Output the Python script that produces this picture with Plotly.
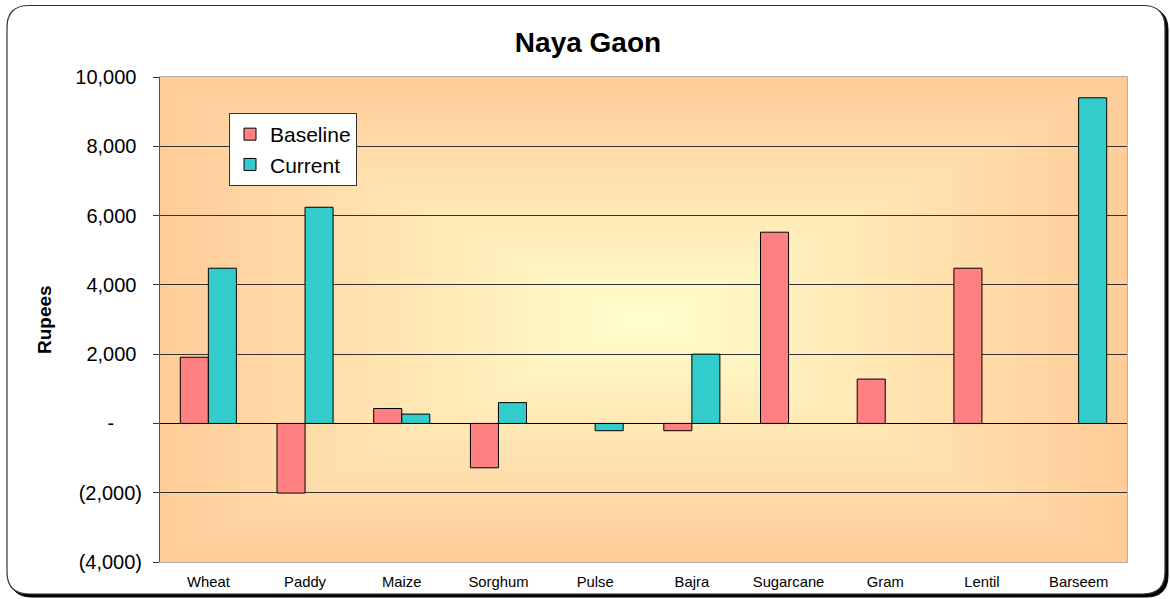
import zlib
import struct
import base64
import numpy as np
import plotly.graph_objects as go

# ---------------- data ----------------
categories = ["Wheat", "Paddy", "Maize", "Sorghum", "Pulse", "Bajra",
              "Sugarcane", "Gram", "Lentil", "Barseem"]
baseline = [1910, -2010, 430, -1280, None, -210, 5520, 1280, 4480, None]
current = [4480, 6240, 270, 600, -210, 2000, None, None, None, 9400]
y_ticks = [-4000, -2000, 0, 2000, 4000, 6000, 8000, 10000]
y_range = [-4000, 10000]
chart_title = "Naya Gaon"
y_title = "Rupees"
series_names = ["Baseline", "Current"]

# ---------------- geometry ----------------
W, H = 1170, 599
ML, MR, MT, MB = 160, 43, 77, 37
PW, PH = W - ML - MR, H - MT - MB
FONT = "Liberation Sans, Arial, sans-serif"


def px_x(px):
    return (px - ML) / PW


def px_y(py):
    return 1 - (py - MT) / PH


def acct(v):
    # Excel accounting style: 1,000_)  (1,000)  -??_)
    if v > 0:
        return f"{v:,}\u00a0"
    if v < 0:
        return f"({-v:,})"
    return "-" + "\u00a0" * 5


# ---------------- gradient background (rectangular "from center") ----------------
def make_png(w, h, rgb):
    raw = b"".join(b"\x00" + rgb[r].tobytes() for r in range(h))

    def chunk(t, d):
        c = struct.pack(">I", len(d)) + t + d
        return c + struct.pack(">I", zlib.crc32(t + d) & 0xFFFFFFFF)

    return (b"\x89PNG\r\n\x1a\n"
            + chunk(b"IHDR", struct.pack(">IIBBBBB", w, h, 8, 2, 0, 0, 0))
            + chunk(b"IDAT", zlib.compress(raw, 9))
            + chunk(b"IEND", b""))


gw, gh = 484, 243
xx = np.abs(np.linspace(-1, 1, gw))[None, :]
yy = np.abs(np.linspace(-1, 1, gh))[:, None]
t = np.maximum(xx, yy)
c_center = np.array([255, 255, 204], dtype=float)
c_edge = np.array([255, 204, 153], dtype=float)
img = (c_center[None, None, :] + (c_edge - c_center)[None, None, :] * t[:, :, None])
img = np.clip(np.round(img), 0, 255).astype(np.uint8)
png_uri = "data:image/png;base64," + base64.b64encode(make_png(gw, gh, img)).decode()

# ---------------- figure ----------------
fig = go.Figure()
fig.add_trace(go.Bar(x=categories, y=baseline, name=series_names[0], legendgroup="a",
                     marker=dict(color="#FF8080", line=dict(color="black", width=1))))
fig.add_trace(go.Bar(x=categories, y=current, name=series_names[1], legendgroup="b",
                     marker=dict(color="#33CCCC", line=dict(color="black", width=1))))

zero_pos = (0 - y_range[0]) / (y_range[1] - y_range[0])
n = len(categories)

fig.update_layout(
    width=W, height=H,
    margin=dict(l=ML, r=MR, t=MT, b=MB, pad=0, autoexpand=False),
    paper_bgcolor="white",
    plot_bgcolor="rgba(0,0,0,0)",
    font=dict(family=FONT, color="black"),
    barmode="group", bargap=0.42, bargroupgap=0,
    showlegend=True,
    legend=dict(x=px_x(229), y=px_y(113), xanchor="left", yanchor="top",
                bgcolor="white", bordercolor="#333", borderwidth=1,
                font=dict(family=FONT, size=21, color="black"),
                traceorder="normal", tracegroupgap=4),
    title=dict(text=f"<b>{chart_title}</b>", x=588 / W, xref="container",
               xanchor="center", y=1 - 42 / H, yref="container", yanchor="middle",
               font=dict(family=FONT, size=28, color="black")),
    xaxis=dict(type="category", categoryorder="array", categoryarray=categories,
               range=[-0.5, n - 0.5], showgrid=False, zeroline=False,
               showline=False, ticks="", ticklabelstandoff=9, automargin=False,
               tickfont=dict(family=FONT, size=14.8, color="black")),
    xaxis2=dict(overlaying="x", anchor="free", position=zero_pos,
                range=[-0.5, n - 0.5], tickmode="array",
                tickvals=[i - 0.5 for i in range(n + 1)], automargin=False,
                ticks="outside", ticklen=5, tickcolor="black", tickwidth=1,
                showticklabels=False, showline=True, linecolor="black",
                linewidth=1, showgrid=False, zeroline=False),
    yaxis=dict(range=y_range, tickmode="array", tickvals=y_ticks,
               ticktext=[acct(v) for v in y_ticks], automargin=False,
               showgrid=True, gridcolor="#333", gridwidth=1,
               zeroline=True, zerolinecolor="black", zerolinewidth=1,
               ticks="outside", ticklen=6, tickcolor="#333", tickwidth=1,
               showline=True, linecolor="#555", linewidth=1,
               ticklabelstandoff=7,
               tickfont=dict(family=FONT, size=20, color="black")),
    images=[dict(source=png_uri, xref="x domain", yref="y domain", x=0, y=1,
                 sizex=1, sizey=1, sizing="stretch", xanchor="left",
                 yanchor="top", layer="below")],
)

# outer rounded frame with shadow
def rounded_path(x0, y0, x1, y1, r):
    X = lambda p: px_x(p)
    Y = lambda p: px_y(p)
    return (f"M{X(x0 + r)},{Y(y0)} L{X(x1 - r)},{Y(y0)} Q{X(x1)},{Y(y0)} {X(x1)},{Y(y0 + r)} "
            f"L{X(x1)},{Y(y1 - r)} Q{X(x1)},{Y(y1)} {X(x1 - r)},{Y(y1)} "
            f"L{X(x0 + r)},{Y(y1)} Q{X(x0)},{Y(y1)} {X(x0)},{Y(y1 - r)} "
            f"L{X(x0)},{Y(y0 + r)} Q{X(x0)},{Y(y0)} {X(x0 + r)},{Y(y0)} Z")


fig.add_shape(type="path", xref="paper", yref="paper", layer="below",
              path=rounded_path(10, 8, 1168, 597, 22),
              fillcolor="black", line=dict(color="black", width=1))
fig.add_shape(type="path", xref="paper", yref="paper", layer="below",
              path=rounded_path(7, 5.5, 1165, 594, 22),
              fillcolor="white", line=dict(color="#333", width=1.2))
# plot-area border
fig.add_shape(type="rect", xref="x domain", yref="y domain", x0=0, x1=1, y0=0, y1=1,
              layer="below", line=dict(color="#999", width=1.5), fillcolor="rgba(0,0,0,0)")

fig.add_annotation(text=f"<b>{y_title}</b>", xref="paper", yref="paper",
                   x=px_x(44.5), y=0.5, textangle=-90, showarrow=False,
                   xanchor="center", yanchor="middle",
                   font=dict(family=FONT, size=19, color="black"))

fig.write_html("out.html", config={"displayModeBar": False},
               post_script="document.body.style.margin='0px';document.body.style.overflow='hidden';")
